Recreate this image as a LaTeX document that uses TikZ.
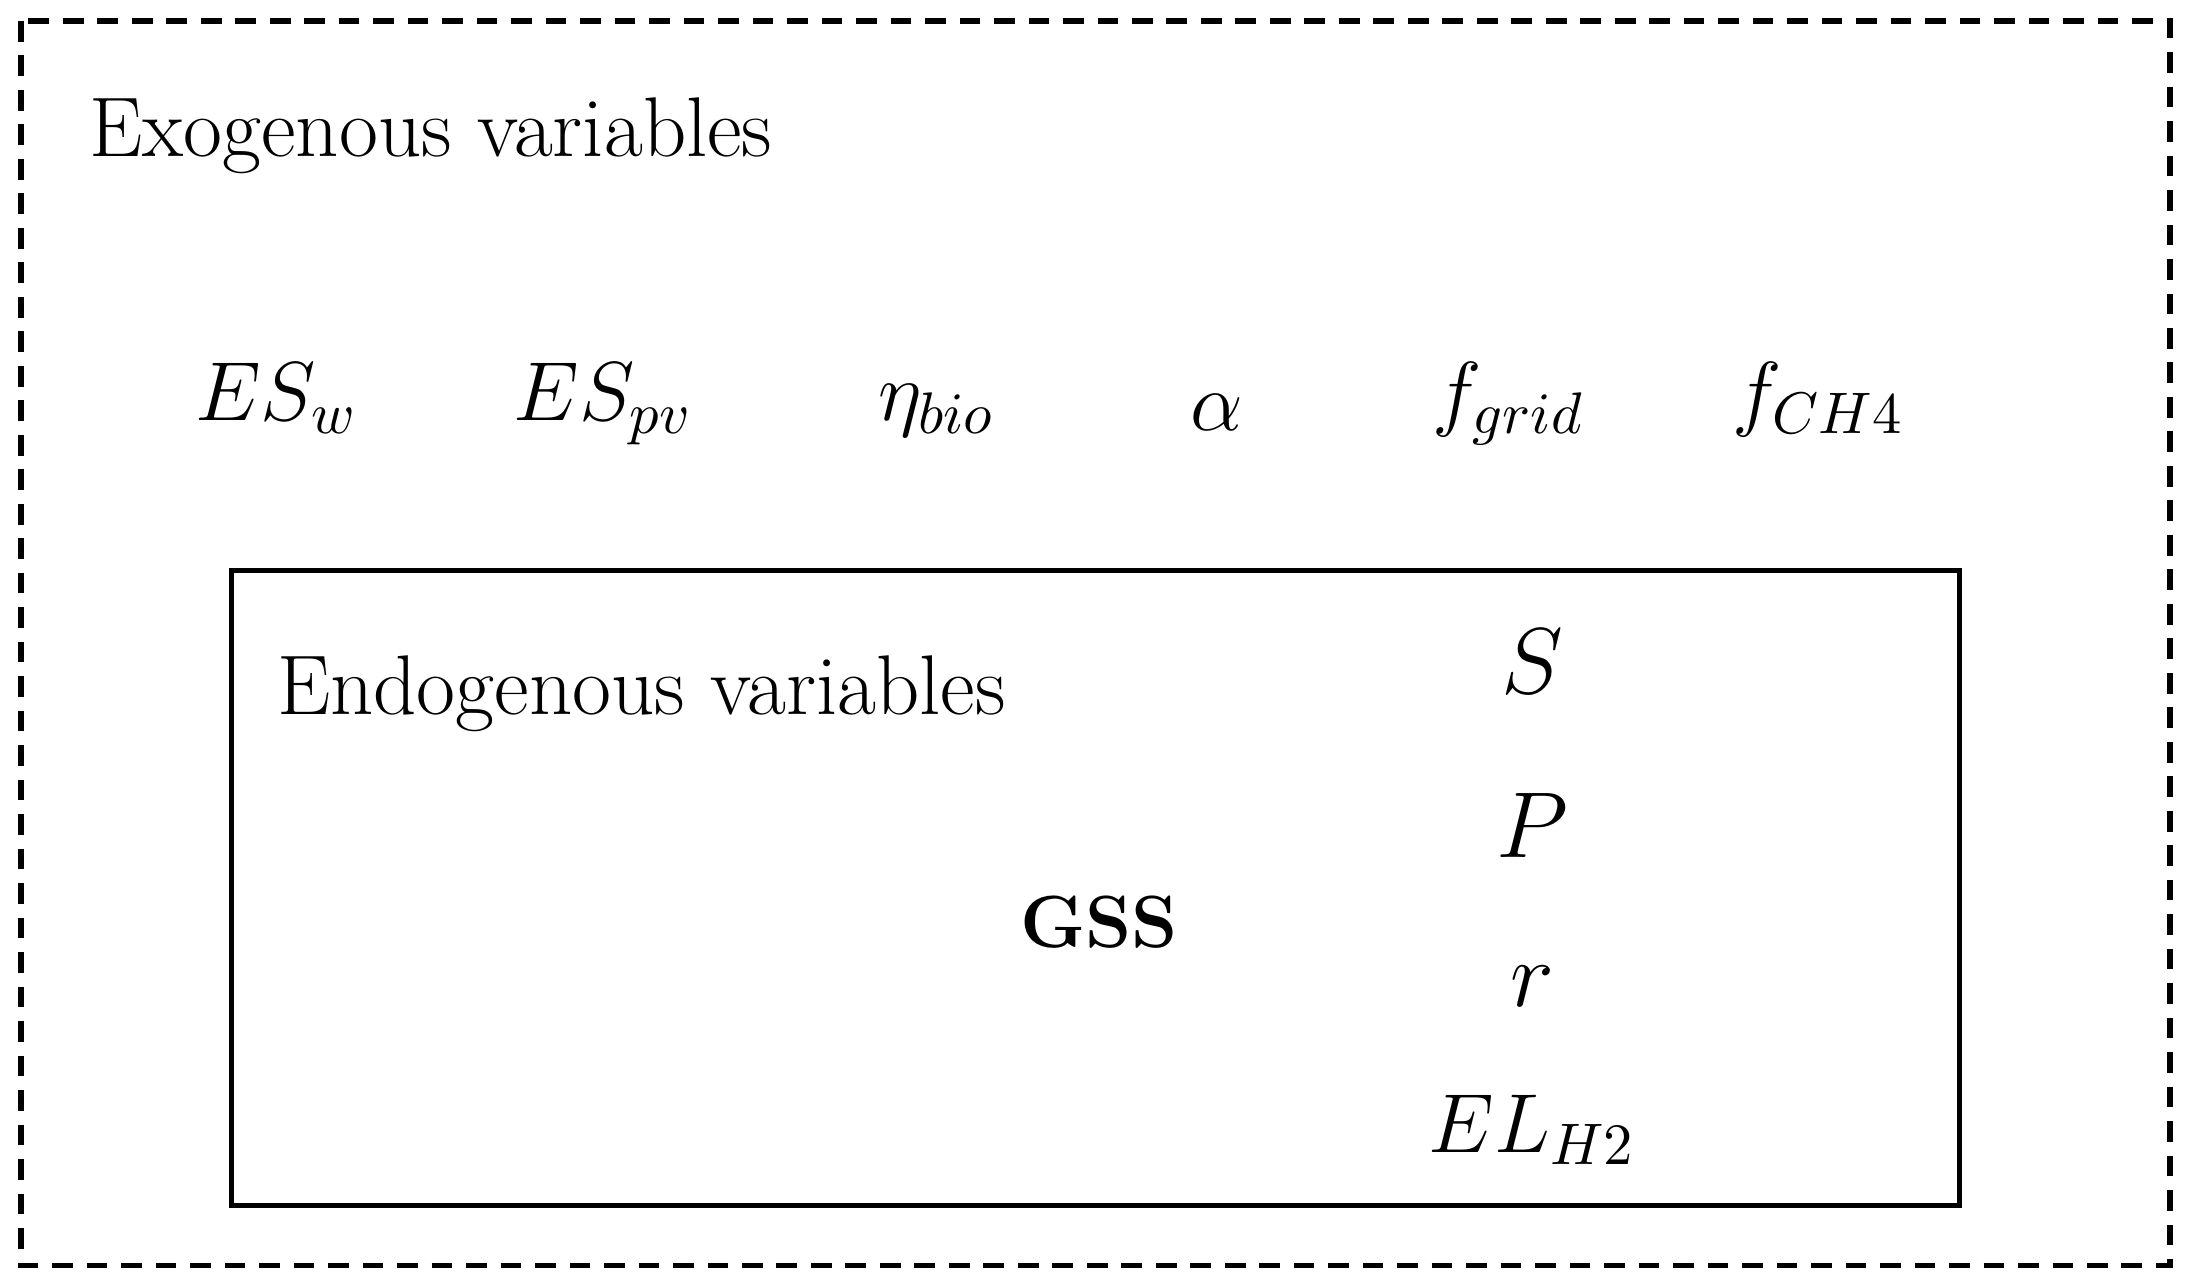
\RequirePackage{fix-cm}
\documentclass[tikz,border=0pt]{standalone}
\usepackage{amsmath}
\usepackage{amssymb}

\begin{document}
\begin{tikzpicture}[x=0.1mm,y=-0.1mm,outerbox/.style={draw=black,line width=1.05pt,dash pattern=on 4.2pt off 2.8pt},innerbox/.style={draw=black,line width=1.1pt},heading/.style={anchor=base west,inner sep=0pt,font=\fontsize{17.2}{20}\selectfont},var/.style={anchor=base,inner sep=0pt,font=\fontsize{17}{20}\selectfont},varL/.style={var,font=\fontsize{19}{22}\selectfont},core/.style={anchor=base,inner sep=0pt,font=\fontsize{15}{18}\selectfont\bfseries}]
\useasboundingbox (0,0) rectangle (1563,915);

\draw[outerbox] (15,15) rectangle (1548,903);
\draw[innerbox] (165,407) rectangle (1398,860);

\node[heading] (exo) at (63,112) {Exogenous variables};

\node[var] (esw) at (197,300) {$ES_w$};
\node[var] (espv) at (430,300) {$ES_{pv}$};
\node[var] (etabio) at (668,300) {$\eta_{bio}$};
\node[var] (alpha) at (868,307) {$\alpha$};
\node[var] (fgrid) at (1076,300) {$f_{grid}$};
\node[var] (fch4) at (1297,300) {$f_{CH4}$};

\node[heading] (endo) at (197,510) {Endogenous variables};
\node[core] (gss) at (784,676) {GSS};

\node[varL] (S) at (1093,495) {$S$};
\node[varL] (P) at (1093,612) {$P$};
\node[varL] (r) at (1093,718) {$r$};
\node[var] (elh2) at (1093,822) {$EL_{H2}$};
\end{tikzpicture}
\end{document}
